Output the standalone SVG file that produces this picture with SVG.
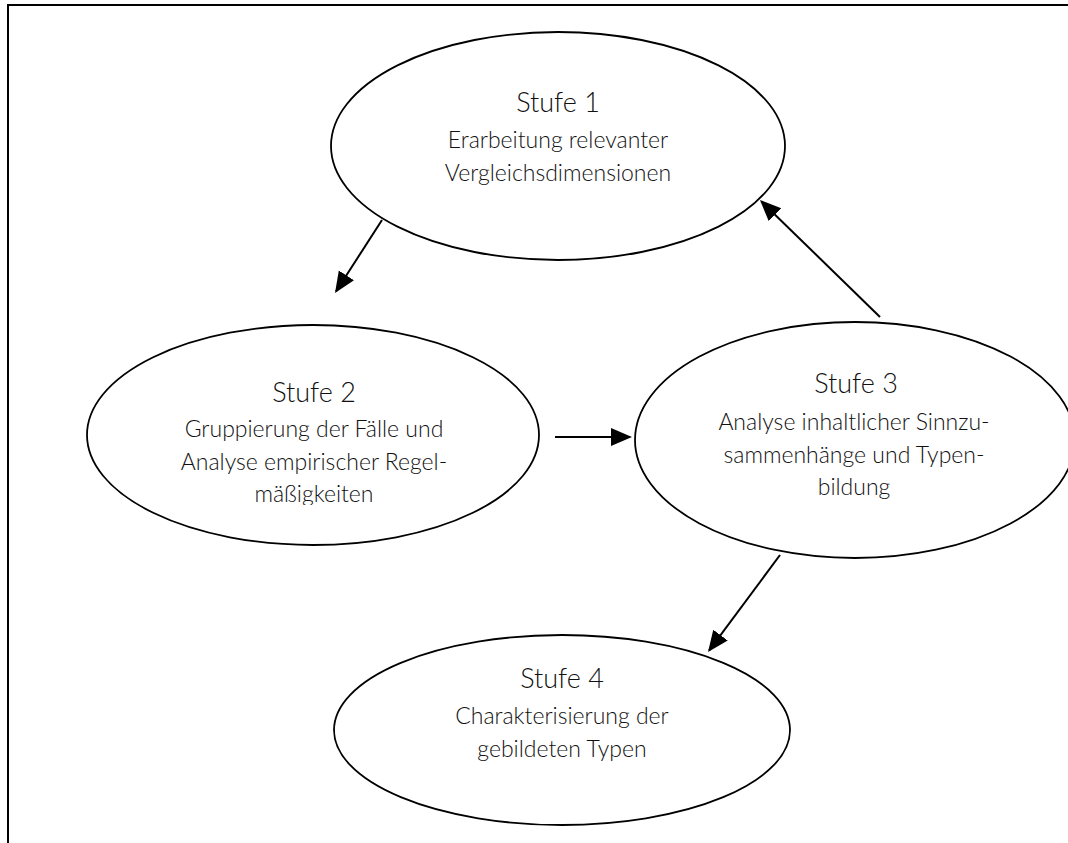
<svg xmlns="http://www.w3.org/2000/svg" width="1068" height="843" viewBox="0 0 1068 843">
<style>
.frame{stroke:#000;stroke-width:2;fill:none}
.node ellipse{fill:#fff;stroke:#000;stroke-width:1.8}
.t{font-family:Lato,"Open Sans","Liberation Sans",sans-serif;font-weight:300;fill:#111;text-anchor:middle}
.h{font-size:27px}
.s{font-size:23px}
.conn line{stroke:#000;stroke-width:2;marker-end:url(#ah)}
</style>
<defs>
<marker id="ah" markerUnits="userSpaceOnUse" markerWidth="22" markerHeight="20" refX="19" refY="9" orient="auto">
<path d="M0,0 L21,9 L0,18 Z" fill="#000"/>
</marker>
<clipPath id="c2"><rect x="80" y="330" width="470" height="175"/></clipPath>
</defs>
<rect width="1068" height="843" fill="#fff"/>
<g id="frame">
<line class="frame" x1="8" y1="5" x2="1068" y2="5"/>
<line class="frame" x1="8" y1="4" x2="8" y2="843"/>
</g>
<g id="node1" class="node">
<ellipse cx="558" cy="146" rx="227" ry="114"/>
<text class="t h" x="558" y="112">Stufe 1</text>
<text class="t s" x="558" y="148">Erarbeitung relevanter</text>
<text class="t s" x="558" y="181">Vergleichsdimensionen</text>
</g>
<g id="node2" class="node">
<ellipse cx="313" cy="435" rx="226" ry="110"/>
<g clip-path="url(#c2)">
<text class="t h" x="314" y="402">Stufe 2</text>
<text class="t s" x="314" y="437">Gruppierung der Fälle und</text>
<text class="t s" x="314" y="470">Analyse empirischer Regel-</text>
<text class="t s" x="314" y="502">mäßigkeiten</text>
</g>
</g>
<g id="node3" class="node">
<ellipse cx="855" cy="440" rx="220" ry="118"/>
<text class="t h" x="856" y="393">Stufe 3</text>
<text class="t s" x="854" y="430">Analyse inhaltlicher Sinnzu-</text>
<text class="t s" x="854" y="463">sammenhänge und Typen-</text>
<text class="t s" x="854" y="495">bildung</text>
</g>
<g id="node4" class="node">
<ellipse cx="562" cy="730" rx="228" ry="95"/>
<text class="t h" x="562" y="688">Stufe 4</text>
<text class="t s" x="562" y="724">Charakterisierung der</text>
<text class="t s" x="562" y="757">gebildeten Typen</text>
</g>
<g id="connectors" class="conn">
<line x1="382" y1="220" x2="336.1" y2="291.3"/>
<line x1="555" y1="437" x2="630" y2="437"/>
<line x1="880" y1="317" x2="761.4" y2="201.4"/>
<line x1="780" y1="555" x2="709.2" y2="650.4"/>
</g>
</svg>
